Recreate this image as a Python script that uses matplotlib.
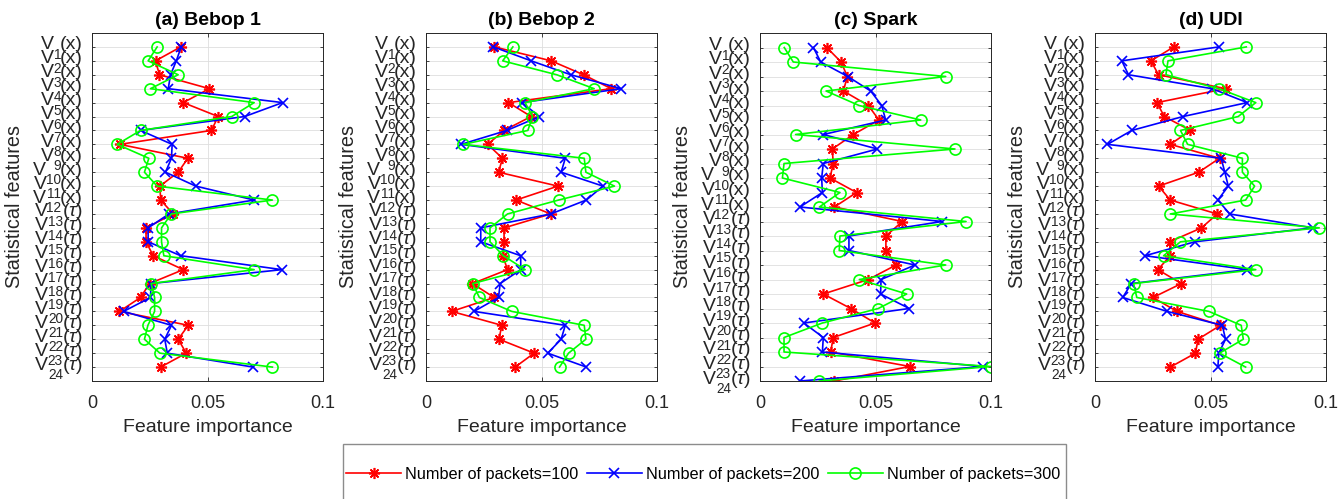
import numpy as np
import matplotlib
matplotlib.use("Agg")
import matplotlib.pyplot as plt
from matplotlib.font_manager import FontProperties
from matplotlib.transforms import offset_copy
from matplotlib.patches import Rectangle

plt.rcParams['font.family'] = ['Liberation Sans', 'DejaVu Sans']
plt.rcParams['mathtext.fontset'] = 'custom'
plt.rcParams['mathtext.rm'] = 'Liberation Sans'
plt.rcParams['mathtext.it'] = 'Liberation Sans:italic'

# feature importance, rows V1..V24
titles = ['(a) Bebop 1', '(b) Bebop 2', '(c) Spark', '(d) UDI']
series_labels = ['Number of packets=100', 'Number of packets=200', 'Number of packets=300']

a_100 = [0.0384, 0.0275, 0.0292, 0.0508, 0.0395, 0.0546, 0.0517, 0.0120, 0.0415, 0.0373, 0.0294, 0.0297,
         0.0352, 0.0234, 0.0234, 0.0265, 0.0395, 0.0249, 0.0210, 0.0119, 0.0417, 0.0373, 0.0408, 0.0297]
a_200 = [0.0386, 0.0365, 0.0340, 0.0330, 0.0825, 0.0661, 0.0210, 0.0347, 0.0344, 0.0318, 0.0449, 0.0702,
         0.0333, 0.0243, 0.0243, 0.0384, 0.0822, 0.0256, 0.0253, 0.0137, 0.0344, 0.0315, 0.0326, 0.0698]
a_300 = [0.0282, 0.0243, 0.0373, 0.0253, 0.0702, 0.0605, 0.0210, 0.0109, 0.0246, 0.0227, 0.0282, 0.0781,
         0.0343, 0.0301, 0.0301, 0.0311, 0.0702, 0.0256, 0.0271, 0.0271, 0.0242, 0.0227, 0.0294, 0.0781]

b_100 = [0.0296, 0.0542, 0.0682, 0.0802, 0.0357, 0.0455, 0.0338, 0.0267, 0.0331, 0.0314, 0.0571, 0.0390,
         0.0540, 0.0338, 0.0338, 0.0332, 0.0353, 0.0201, 0.0295, 0.0111, 0.0328, 0.0316, 0.0468, 0.0386]
b_200 = [0.0292, 0.0455, 0.0627, 0.0845, 0.0415, 0.0491, 0.0350, 0.0152, 0.0603, 0.0585, 0.0766, 0.0694,
         0.0540, 0.0237, 0.0237, 0.0410, 0.0410, 0.0321, 0.0314, 0.0208, 0.0603, 0.0585, 0.0527, 0.0694]
b_300 = [0.0376, 0.0332, 0.0566, 0.0728, 0.0429, 0.0461, 0.0441, 0.0162, 0.0685, 0.0692, 0.0816, 0.0574,
         0.0353, 0.0277, 0.0277, 0.0335, 0.0429, 0.0202, 0.0231, 0.0371, 0.0685, 0.0692, 0.0617, 0.0578]

c_100 = [0.0289, 0.0351, 0.0378, 0.0361, 0.0469, 0.0515, 0.0404, 0.0313, 0.0317, 0.0303, 0.0418, 0.0322,
         0.0616, 0.0545, 0.0545, 0.0589, 0.0469, 0.0274, 0.0393, 0.0498, 0.0317, 0.0306, 0.0649, 0.0322]
c_200 = [0.0231, 0.0263, 0.0380, 0.0479, 0.0527, 0.0544, 0.0274, 0.0508, 0.0274, 0.0267, 0.0270, 0.0173,
         0.0789, 0.0385, 0.0385, 0.0671, 0.0524, 0.0522, 0.0646, 0.0190, 0.0274, 0.0270, 0.0967, 0.0173]
c_300 = [0.0105, 0.0144, 0.0804, 0.0286, 0.0429, 0.0696, 0.0154, 0.0844, 0.0104, 0.0097, 0.0346, 0.0257,
         0.0892, 0.0346, 0.0343, 0.0804, 0.0430, 0.0635, 0.0512, 0.0270, 0.0104, 0.0104, 0.1000, 0.0257]

d_100 = [0.0341, 0.0242, 0.0275, 0.0565, 0.0268, 0.0300, 0.0413, 0.0326, 0.0539, 0.0449, 0.0275, 0.0326,
         0.0529, 0.0461, 0.0323, 0.0326, 0.0272, 0.0374, 0.0251, 0.0355, 0.0543, 0.0446, 0.0435, 0.0326]
d_200 = [0.0536, 0.0116, 0.0145, 0.0507, 0.0659, 0.0381, 0.0159, 0.0054, 0.0546, 0.0562, 0.0577, 0.0532,
         0.0583, 0.0942, 0.0432, 0.0217, 0.0659, 0.0157, 0.0120, 0.0312, 0.0551, 0.0565, 0.0536, 0.0532]
d_300 = [0.0655, 0.0316, 0.0307, 0.0536, 0.0696, 0.0620, 0.0370, 0.0401, 0.0638, 0.0638, 0.0691, 0.0652,
         0.0326, 0.0971, 0.0370, 0.0297, 0.0696, 0.0167, 0.0181, 0.0493, 0.0633, 0.0642, 0.0539, 0.0652]

panel_data = [(a_100, a_200, a_300), (b_100, b_200, b_300), (c_100, c_200, c_300), (d_100, d_200, d_300)]
ylims = [25, 25, 24, 25]

feature_idx = list(range(1, 25))
feature_var = ['(x)'] * 12 + [r'$(\tau)$'] * 12

colors = ['#ff0000', '#0000ff', '#00ff00']
markers = [(8, 2, 0), 'x', 'o']
msizes = [8, 7, 8]
xticks = [0, 0.05, 0.1]
xticklabels = ['0', '0.05', '0.1']

W, H = 1343, 499
fig = plt.figure(figsize=(W / 100, H / 100), dpi=100)
lefts = [92, 426, 760, 1095]
ax_w = 231
ax_top, ax_bot = 33, 381

renderer = fig.canvas.get_renderer()
lab_fs = 14
sub_fs = 9.8
prop_main = FontProperties(family=['Liberation Sans', 'DejaVu Sans'], size=lab_fs)
prop_sub = FontProperties(family=['Liberation Sans', 'DejaVu Sans'], size=sub_fs)

def text_w(s, prop):
    ismath = s.startswith('$')
    w, h, d = renderer.get_text_width_height_descent(s, prop, ismath=ismath)
    return w

tick_col = '#262626'
handles = []
for p in range(4):
    ax = fig.add_axes([lefts[p] / W, 1 - ax_bot / H, ax_w / W, (ax_bot - ax_top) / H])
    rows = np.arange(1, 25)
    for s in range(3):
        h, = ax.plot(panel_data[p][s], rows, color=colors[s], marker=markers[s], ms=msizes[s],
                     mfc='none', mew=1.2, lw=1.2, label=series_labels[s])
        if p == 0:
            handles.append(h)
    ax.set_xlim(0, 0.1)
    ax.set_ylim(ylims[p], 0)
    ax.set_xticks(xticks)
    ax.set_xticklabels(xticklabels)
    ax.set_yticks(rows)
    ax.set_yticklabels([])
    ax.tick_params(direction='in', length=3, width=0.6, colors=tick_col, labelsize=13,
                   top=True, right=True, pad=10)
    ax.tick_params(axis='y', length=2.5)
    ax.grid(True, color='#dedede', lw=0.6)
    ax.set_axisbelow(True)
    for sp in ax.spines.values():
        sp.set_color(tick_col)
        sp.set_linewidth(0.7)
    ax.set_title(titles[p], fontsize=14, fontweight='bold', pad=6)
    ax.set_xlabel('Feature importance', fontsize=14, color=tick_col, labelpad=5)
    ax.set_ylabel('Statistical features', fontsize=14.3, color=tick_col, va='center')
    ax.yaxis.set_label_coords(-0.335, 0.5)

    # MATLAB-style tick labels: V with a dropped subscript, then (x) / (tau)
    base = ax.get_yaxis_transform()
    x0 = -6.5 * 100 / 72
    for i, var in zip(feature_idx, feature_var):
        num = str(i)
        w_var = text_w(var, prop_main)
        w_num = text_w(num, prop_sub)
        ax.text(0, i, var, fontproperties=prop_main, color=tick_col, ha='right', va='center',
                transform=offset_copy(base, fig=fig, x=x0, y=2, units='dots'), clip_on=False)
        ax.text(0, i, num, fontproperties=prop_sub, color=tick_col, ha='right', va='center',
                transform=offset_copy(base, fig=fig, x=x0 - w_var + 1, y=-8, units='dots'), clip_on=False)
        ax.text(0, i, 'V', fontproperties=prop_main, color=tick_col, ha='right', va='center',
                transform=offset_copy(base, fig=fig, x=x0 - w_var - w_num + 1, y=2, units='dots'),
                clip_on=False)

# legend with a frame running off the bottom edge like the original
fig.patches.append(Rectangle((343 / W, -0.2), (1066 - 343) / W, 0.2 + 1 - 444 / H,
                             transform=fig.transFigure, fill=False, ec='#8c8c8c', lw=1.0))
fig.legend(handles=handles, loc='center left', bbox_to_anchor=(346 / W, 1 - 474 / H), ncol=3,
           frameon=False, fontsize=11.7, handlelength=3.4, handletextpad=0.25, columnspacing=0.5,
           borderpad=0, borderaxespad=0, numpoints=1)

fig.savefig('out.png', dpi=100)
